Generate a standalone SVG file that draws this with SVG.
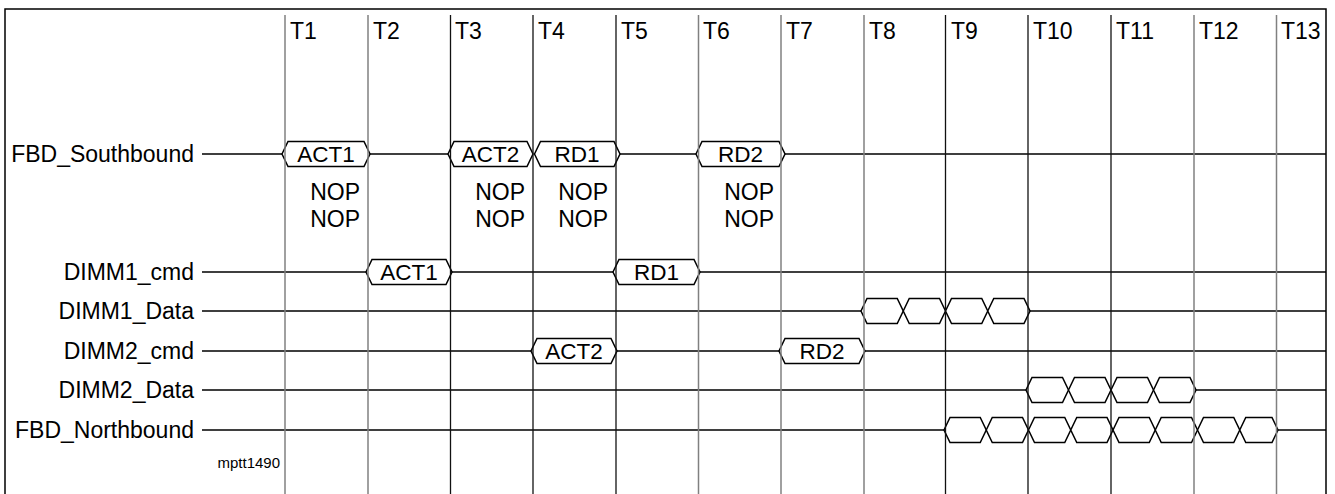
<svg xmlns="http://www.w3.org/2000/svg" width="1335" height="494" viewBox="0 0 1335 494">
<style>
text{font-family:"Liberation Sans",Arial,sans-serif;fill:#000}
.lbl{font-size:23px;text-anchor:end}
.t{font-size:23px}
.hx{font-size:22.5px;text-anchor:middle}
.nop{font-size:23px;text-anchor:end}
.sm{font-size:15px;text-anchor:end}
.sig{fill:none;stroke:#000;stroke-width:1.5}
.hex{fill:#fff;stroke:#000;stroke-width:1.5;stroke-linejoin:miter}
.gk{stroke:#111;stroke-width:1.3}
.gg{stroke:#808080;stroke-width:1.5}
</style>
<rect width="1335" height="494" fill="#fff"/>
<path d="M5,494 V9 H1326 V494" fill="none" stroke="#000" stroke-width="1.5"/>

<g id="connectors">
<path class="sig" d="M202,154 H282 M370,154 H448 M620,154 H696 M785,154 H1326"/>
<path class="sig" d="M202,272 H366 M452,272 H613 M700,272 H1326"/>
<path class="sig" d="M202,311 H861 M1030,311 H1326"/>
<path class="sig" d="M202,351 H531 M617,351 H779 M865,351 H1326"/>
<path class="sig" d="M202,390 H1026 M1196,390 H1326"/>
<path class="sig" d="M202,430 H944 M1278,430 H1326"/>
</g>

<g id="hexes">
<polygon class="hex" points="282,154 288,141.5 364,141.5 370,154 364,166.5 288,166.5"/>
<polygon class="hex" points="448,154 454,141.5 527,141.5 533,154 527,166.5 454,166.5"/>
<polygon class="hex" points="534.5,154 540.5,141.5 614,141.5 620,154 614,166.5 540.5,166.5"/>
<polygon class="hex" points="696,154 702,141.5 779,141.5 785,154 779,166.5 702,166.5"/>
<polygon class="hex" points="366,272 372,259.5 446,259.5 452,272 446,284.5 372,284.5"/>
<polygon class="hex" points="613,272 619,259.5 694,259.5 700,272 694,284.5 619,284.5"/>
<polygon class="hex" points="531,351 537,338.5 611,338.5 617,351 611,363.5 537,363.5"/>
<polygon class="hex" points="779,351 785,338.5 859,338.5 865,351 859,363.5 785,363.5"/>
<g id="dimm1_data">
<polygon class="hex" points="861,311 867,298.5 897.25,298.5 903.25,311 897.25,323.5 867,323.5"/>
<polygon class="hex" points="903.25,311 909.25,298.5 939.5,298.5 945.5,311 939.5,323.5 909.25,323.5"/>
<polygon class="hex" points="945.5,311 951.5,298.5 981.75,298.5 987.75,311 981.75,323.5 951.5,323.5"/>
<polygon class="hex" points="987.75,311 993.75,298.5 1024,298.5 1030,311 1024,323.5 993.75,323.5"/>
</g>
<g id="dimm2_data">
<polygon class="hex" points="1026,390 1032,377.5 1062.5,377.5 1068.5,390 1062.5,402.5 1032,402.5"/>
<polygon class="hex" points="1068.5,390 1074.5,377.5 1105,377.5 1111,390 1105,402.5 1074.5,402.5"/>
<polygon class="hex" points="1111,390 1117,377.5 1147.5,377.5 1153.5,390 1147.5,402.5 1117,402.5"/>
<polygon class="hex" points="1153.5,390 1159.5,377.5 1190,377.5 1196,390 1190,402.5 1159.5,402.5"/>
</g>
<g id="fbd_north_data">
<polygon class="hex" points="944,430 950,417.5 980.25,417.5 986.25,430 980.25,442.5 950,442.5"/>
<polygon class="hex" points="986.25,430 992.25,417.5 1022.5,417.5 1028.5,430 1022.5,442.5 992.25,442.5"/>
<polygon class="hex" points="1028.5,430 1034.5,417.5 1064.75,417.5 1070.75,430 1064.75,442.5 1034.5,442.5"/>
<polygon class="hex" points="1070.75,430 1076.75,417.5 1107,417.5 1113,430 1107,442.5 1076.75,442.5"/>
<polygon class="hex" points="1113,430 1119,417.5 1149.25,417.5 1155.25,430 1149.25,442.5 1119,442.5"/>
<polygon class="hex" points="1155.25,430 1161.25,417.5 1191.5,417.5 1197.5,430 1191.5,442.5 1161.25,442.5"/>
<polygon class="hex" points="1197.5,430 1203.5,417.5 1233.75,417.5 1239.75,430 1233.75,442.5 1203.5,442.5"/>
<polygon class="hex" points="1239.75,430 1245.75,417.5 1272,417.5 1278,430 1272,442.5 1245.75,442.5"/>
</g>
</g>

<g id="grid">
<line class="gg" x1="285" y1="15" x2="285" y2="494"/>
<line class="gg" x1="368" y1="15" x2="368" y2="494"/>
<line class="gk" x1="450.5" y1="15" x2="450.5" y2="494"/>
<line class="gk" x1="533" y1="15" x2="533" y2="494"/>
<line class="gk" x1="616" y1="15" x2="616" y2="494"/>
<line class="gg" x1="698.5" y1="15" x2="698.5" y2="494"/>
<line class="gg" x1="781" y1="15" x2="781" y2="494"/>
<line class="gg" x1="864" y1="15" x2="864" y2="494"/>
<line class="gk" x1="945.5" y1="15" x2="945.5" y2="494"/>
<line class="gk" x1="1028" y1="15" x2="1028" y2="494"/>
<line class="gk" x1="1111" y1="15" x2="1111" y2="494"/>
<line class="gg" x1="1194" y1="15" x2="1194" y2="494"/>
<line class="gg" x1="1276.5" y1="15" x2="1276.5" y2="494"/>
</g>

<g id="time-labels">
<text class="t" x="290" y="39">T1</text>
<text class="t" x="373" y="39">T2</text>
<text class="t" x="455" y="39">T3</text>
<text class="t" x="538" y="39">T4</text>
<text class="t" x="621" y="39">T5</text>
<text class="t" x="703" y="39">T6</text>
<text class="t" x="786" y="39">T7</text>
<text class="t" x="869" y="39">T8</text>
<text class="t" x="951" y="39">T9</text>
<text class="t" x="1033" y="39">T10</text>
<text class="t" x="1116" y="39">T11</text>
<text class="t" x="1199" y="39">T12</text>
<text class="t" x="1281" y="39">T13</text>
</g>

<g id="fbd_southbound">
<text class="lbl" x="194" y="162">FBD_Southbound</text>
<text class="hx" x="326" y="162">ACT1</text>
<text class="hx" x="490.5" y="162">ACT2</text>
<text class="hx" x="577" y="162">RD1</text>
<text class="hx" x="740.5" y="162">RD2</text>
</g>
<g id="nops">
<text class="nop" x="360" y="200">NOP</text>
<text class="nop" x="360" y="227">NOP</text>
<text class="nop" x="525" y="200">NOP</text>
<text class="nop" x="525" y="227">NOP</text>
<text class="nop" x="608" y="200">NOP</text>
<text class="nop" x="608" y="227">NOP</text>
<text class="nop" x="774" y="200">NOP</text>
<text class="nop" x="774" y="227">NOP</text>
</g>
<g id="dimm1_cmd">
<text class="lbl" x="194" y="280">DIMM1_cmd</text>
<text class="hx" x="409" y="280">ACT1</text>
<text class="hx" x="656.5" y="280">RD1</text>
</g>
<g id="dimm1_data_lbl">
<text class="lbl" x="194" y="319">DIMM1_Data</text>
</g>
<g id="dimm2_cmd">
<text class="lbl" x="194" y="359">DIMM2_cmd</text>
<text class="hx" x="574" y="359">ACT2</text>
<text class="hx" x="822" y="359">RD2</text>
</g>
<g id="dimm2_data_lbl">
<text class="lbl" x="194" y="398">DIMM2_Data</text>
</g>
<g id="fbd_northbound">
<text class="lbl" x="194" y="438">FBD_Northbound</text>
</g>
<text class="sm" x="280" y="468">mptt1490</text>
</svg>
